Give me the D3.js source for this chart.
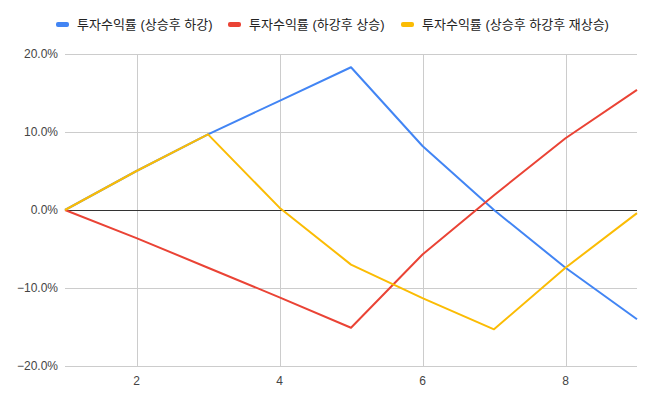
<!DOCTYPE html>
<html>
<head>
<meta charset="utf-8">
<script src="https://cdn.jsdelivr.net/npm/d3@7"></script>
<style>
  body { margin: 0; background: #fff; }
  svg text { font-family: Arial, "Liberation Sans", "Noto Sans CJK KR", sans-serif; }
</style>
</head>
<body>
<div id="chart"></div>
<script>
// periods 1..9
var periods = [1, 2, 3, 4, 5, 6, 7, 8, 9];
var seriesNames = ["투자수익률 (상승후 하강)", "투자수익률 (하강후 상승)", "투자수익률 (상승후 하강후 재상승)"];
var riseFall = [0, 5.0, 9.7, 14.0, 18.3, 8.2, 0.0, -7.4, -14.0];
var fallRise = [0, -3.6, -7.4, -11.2, -15.1, -5.7, 1.9, 9.2, 15.4];
var riseFallRise = [0, 5.0, 9.7, 0.3, -7.0, -11.3, -15.3, -7.4, -0.4];
var colors = ["#4285f4", "#ea4335", "#fbbc04"];
var yTicks = [-20, -10, 0, 10, 20];
var xTicks = [2, 4, 6, 8];

var width = 658, height = 407;
var svg = d3.select("#chart").append("svg")
    .attr("width", width)
    .attr("height", height);

var x = d3.scaleLinear().domain([1, 9]).range([65, 637]);
var y = d3.scaleLinear().domain([-20, 20]).range([366, 54]);

// grid
svg.append("g")
    .selectAll("line")
    .data(yTicks.filter(d => d != 0))
    .join("line")
    .attr("x1", x(1)).attr("x2", x(9))
    .attr("y1", d => y(d) + 0.5).attr("y2", d => y(d) + 0.5)
    .attr("stroke", "#cccccc");

svg.append("g")
    .selectAll("line")
    .data(xTicks)
    .join("line")
    .attr("x1", d => Math.round(x(d)) + 0.5).attr("x2", d => Math.round(x(d)) + 0.5)
    .attr("y1", y(20)).attr("y2", y(-20))
    .attr("stroke", "#cccccc");

// y labels
svg.append("g")
    .selectAll("text")
    .data(yTicks)
    .join("text")
    .attr("x", 58)
    .attr("y", d => y(d) + 4)
    .attr("text-anchor", "end")
    .attr("font-size", 12)
    .attr("fill", "#444")
    .text(d => d3.format(".1f")(d) + "%");

// x labels
svg.append("g")
    .selectAll("text")
    .data(xTicks)
    .join("text")
    .attr("x", d => x(d))
    .attr("y", 385)
    .attr("text-anchor", "middle")
    .attr("font-size", 12)
    .attr("fill", "#444")
    .text(d => d);

// zero line
svg.append("line")
    .attr("x1", x(1)).attr("x2", x(9))
    .attr("y1", y(0) + 0.5).attr("y2", y(0) + 0.5)
    .attr("stroke", "#333333");

var line = d3.line()
    .x((d, i) => x(periods[i]))
    .y(d => y(d));

[riseFall, fallRise, riseFallRise].forEach(function(s, k) {
    svg.append("path")
        .datum(s)
        .attr("fill", "none")
        .attr("stroke", colors[k])
        .attr("stroke-width", 2)
        .attr("stroke-linejoin", "round")
        .attr("d", line);
});

// legend
var legendX = [56, 228, 401];
var legend = svg.append("g");
seriesNames.forEach(function(name, k) {
    legend.append("rect")
        .attr("x", legendX[k]).attr("y", 22)
        .attr("width", 13).attr("height", 5)
        .attr("rx", 2)
        .attr("fill", colors[k]);
    legend.append("text")
        .attr("x", legendX[k] + 21)
        .attr("y", 29)
        .attr("font-size", 13)
        .attr("fill", "#222")
        .text(name);
});
</script>
</body>
</html>
